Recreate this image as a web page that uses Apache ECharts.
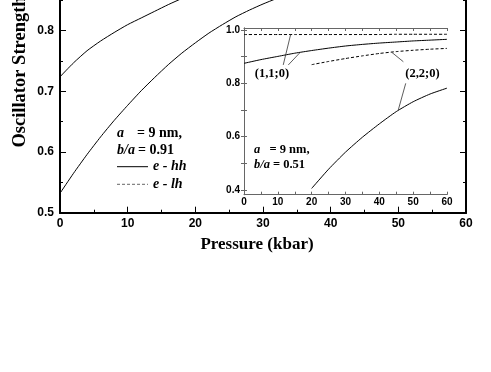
<!DOCTYPE html>
<html>
<head>
<meta charset="utf-8">
<script src="https://cdn.jsdelivr.net/npm/echarts@6/dist/echarts.min.js"></script>
<style>
  html, body { margin: 0; padding: 0; background: #fff; }
  #chart { width: 491px; height: 372px; }
</style>
</head>
<body>
<div id="chart"></div>
<script>
// main plot, b/a = 0.91
const upperP = [0, 2, 4, 6, 8, 10, 12, 14, 16, 18, 20, 22];
const upperF = [0.724, 0.747, 0.767, 0.783, 0.797, 0.810, 0.821, 0.832, 0.843, 0.853, 0.862, 0.871];
const lowerP = [0, 2, 4, 6, 8, 10, 12, 14, 16, 18, 20, 22, 24, 26, 28, 30, 32, 34, 36];
const lowerF = [0.532, 0.565, 0.596, 0.625, 0.652, 0.677, 0.701, 0.723, 0.744, 0.763, 0.780, 0.796, 0.810, 0.823, 0.834, 0.844, 0.853, 0.861, 0.868];

// inset, b/a = 0.51
const insetP = [0, 5, 10, 15, 20, 25, 30, 35, 40, 45, 50, 55, 60];
const inset110lh = [0.983, 0.983, 0.983, 0.983, 0.983, 0.983, 0.983, 0.983, 0.983, 0.984, 0.984, 0.984, 0.984];
const inset110hh = [0.875, 0.889, 0.901, 0.913, 0.923, 0.932, 0.940, 0.946, 0.951, 0.955, 0.959, 0.962, 0.965];
const insetP22 = [20, 25, 30, 35, 40, 45, 50, 55, 60];
const inset220lh = [0.870, 0.882, 0.893, 0.903, 0.912, 0.919, 0.924, 0.928, 0.931];
const inset220hh = [0.406, 0.478, 0.542, 0.598, 0.648, 0.694, 0.731, 0.760, 0.782];

// label pointer lines in inset data coords
const pointers = [
  [[11.6, 0.869], [13.8, 0.984]],
  [[13.1, 0.869], [16.6, 0.916]],
  [[47.1, 0.881], [43.7, 0.916]],
  [[47.8, 0.800], [45.6, 0.700]]
];

// ticks
const mainYMajor = [0.5, 0.6, 0.7, 0.8];
const mainYMinor = [0.55, 0.65, 0.75, 0.85];
const insetYTicks = [0.4, 0.5, 0.6, 0.7, 0.8, 0.9, 1.0];
const insetYLabels = [0.4, 0.6, 0.8, 1.0];

const pts = (xs, ys) => xs.map((x, i) => [x, ys[i]]);

const sans = '"Liberation Sans", Arial, sans-serif';
const serif = '"Liberation Serif", "Times New Roman", serif';

const chart = echarts.init(document.getElementById('chart'));

function yAx(grid, pos, ticks, labels, len, color, min, max, lw, fs, margin) {
  return {
    type: 'value', gridIndex: grid, position: pos, min: min, max: max,
    axisLine: { show: true, lineStyle: { color: color, width: lw } },
    axisTick: { show: true, inside: true, length: len, customValues: ticks, lineStyle: { color: color, width: 1 } },
    axisLabel: labels ? {
      show: true, customValues: labels, margin: margin,
      formatter: v => v.toFixed(1),
      color: '#000', fontWeight: 'bold', fontFamily: sans, fontSize: fs
    } : { show: false },
    splitLine: { show: false }
  };
}

function line(data, xi, yi, dashed) {
  return {
    type: 'line', xAxisIndex: xi, yAxisIndex: yi, data: data,
    showSymbol: false, symbol: 'none', smooth: 0.2,
    lineStyle: { color: '#000', width: 1, type: dashed ? [3, 2] : 'solid' },
    silent: true
  };
}

const series = [
  line(pts(upperP, upperF), 0, 0),
  line(pts(lowerP, lowerF), 0, 0),
  line(pts(insetP, inset110lh), 1, 4, true),
  line(pts(insetP, inset110hh), 1, 4),
  line(pts(insetP22, inset220lh), 1, 4, true),
  line(pts(insetP22, inset220hh), 1, 4)
];
pointers.forEach(p => {
  series.push({
    type: 'line', xAxisIndex: 1, yAxisIndex: 4, data: p,
    showSymbol: false, symbol: 'none',
    lineStyle: { color: '#333', width: 0.8 }, silent: true
  });
});

function txt(x, y, text, size, italic, align) {
  return {
    type: 'text', x: x, y: y, z: 10,
    style: {
      text: text, fill: '#000',
      font: (italic ? 'italic ' : '') + 'bold ' + size + 'px ' + serif,
      textAlign: align || 'left', textVerticalAlign: 'middle'
    }
  };
}

chart.setOption({
  animation: false,
  backgroundColor: '#fff',
  grid: [
    { left: 60, right: 25, top: 0, bottom: 159.3 },
    { left: 244, right: 44, top: 28, bottom: 177.3 }
  ],
  xAxis: [
    {
      type: 'value', gridIndex: 0, min: 0, max: 60, interval: 10,
      axisLine: { show: true, lineStyle: { color: '#000', width: 2 } },
      axisTick: { show: true, inside: true, length: 6, lineStyle: { color: '#000', width: 1 } },
      minorTick: { show: true, splitNumber: 2, length: 3, lineStyle: { color: '#000', width: 1 } },
      axisLabel: { margin: 5, color: '#000', fontWeight: 'bold', fontFamily: sans, fontSize: 12 },
      splitLine: { show: false }
    },
    {
      type: 'value', gridIndex: 1, position: 'bottom', min: 0, max: 60, interval: 10,
      axisLine: { show: true, lineStyle: { color: '#666', width: 1 } },
      axisTick: { show: true, inside: true, length: 3, lineStyle: { color: '#666' } },
      minorTick: { show: true, splitNumber: 2, length: 3, lineStyle: { color: '#666' } },
      axisLabel: { margin: 3, color: '#000', fontWeight: 'bold', fontFamily: sans, fontSize: 10 },
      splitLine: { show: false }
    },
    {
      type: 'value', gridIndex: 1, position: 'top', min: 0, max: 60, interval: 10,
      axisLine: { show: true, lineStyle: { color: '#666', width: 1 } },
      axisTick: { show: true, inside: true, length: 3, lineStyle: { color: '#666' } },
      minorTick: { show: true, splitNumber: 2, length: 3, lineStyle: { color: '#666' } },
      axisLabel: { show: false },
      splitLine: { show: false }
    }
  ],
  yAxis: [
    yAx(0, 'left', mainYMajor, mainYMajor, 6, '#000', 0.5, 0.8506, 2, 12, 6),
    yAx(0, 'left', mainYMinor, null, 3, '#000', 0.5, 0.8506, 2),
    yAx(0, 'right', mainYMajor, null, 6, '#000', 0.5, 0.8506, 2),
    yAx(0, 'right', mainYMinor, null, 3, '#000', 0.5, 0.8506, 2),
    yAx(1, 'left', insetYTicks, insetYLabels, 3, '#666', 0.3824, 1.0075, 1, 10, 4),
    yAx(1, 'right', insetYTicks, null, 3, '#666', 0.3824, 1.0075, 1)
  ],
  series: series,
  graphic: [
    {
      type: 'text', x: 20, y: 72, rotation: Math.PI / 2,
      style: { text: 'Oscillator Strength', fill: '#000', font: 'bold 18.5px ' + serif, textAlign: 'center', textVerticalAlign: 'middle' }
    },
    {
      type: 'text', x: 257, y: 245,
      style: { text: 'Pressure (kbar)', fill: '#000', font: 'bold 17px ' + serif, textAlign: 'center', textVerticalAlign: 'middle' }
    },
    // main notes + legend
    txt(117, 133, 'a', 14, true),
    txt(137, 133, '= 9 nm,', 14),
    txt(117, 150, 'b/a', 14, true),
    txt(138, 150, '= 0.91', 14),
    { type: 'line', shape: { x1: 117, y1: 166.7, x2: 148, y2: 166.7 }, style: { stroke: '#000', lineWidth: 1 } },
    txt(153, 166.7, 'e - hh', 14, true),
    { type: 'line', shape: { x1: 117, y1: 184.3, x2: 148, y2: 184.3 }, style: { stroke: '#666', lineWidth: 1, lineDash: [3, 2] } },
    txt(153, 184.3, 'e - lh', 14, true),
    // inset notes
    txt(254, 150, 'a', 12.5, true),
    txt(269.5, 150, '= 9 nm,', 12.5),
    txt(254, 165, 'b/a', 12.5, true),
    txt(273, 165, '= 0.51', 12.5),
    txt(272, 73.3, '(1,1;0)', 12.5, false, 'center'),
    txt(422.5, 73.3, '(2,2;0)', 12.5, false, 'center')
  ]
});
</script>
</body>
</html>
